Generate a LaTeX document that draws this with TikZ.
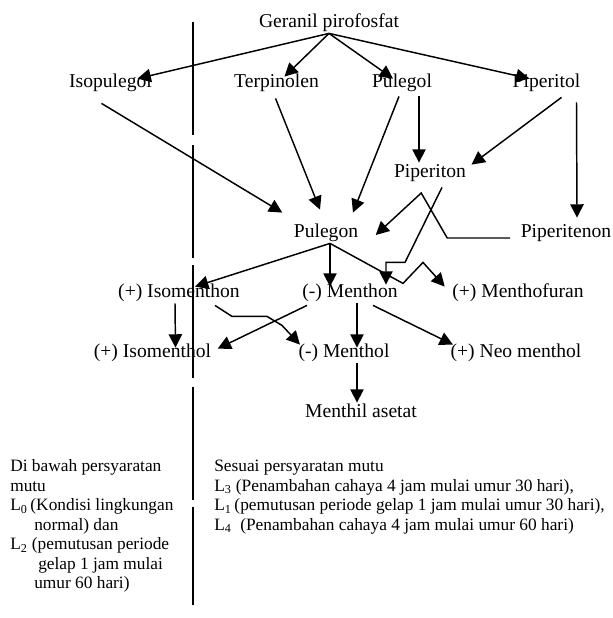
\documentclass[tikz,border=0pt]{standalone}
\usepackage{fontspec}
\setmainfont{Liberation Serif}
\usetikzlibrary{arrows.meta,calc}

\begin{document}
\begin{tikzpicture}[x=0.75pt,y=-0.75pt]

\tikzstyle{chem} = [inner sep=1pt, text height=10pt, text depth=3.2pt, font=\fontsize{14.7}{17}\selectfont]
\tikzstyle{arr} = [line width=1.1pt, -{Triangle[length=10pt,width=10pt]}]
\tikzstyle{note} = [anchor=base west, inner sep=0pt, font=\fontsize{13}{16}\selectfont]

\useasboundingbox (0,0) rectangle (613,618);

\node[chem] (ger) at (329,23) {Geranil pirofosfat};
\node[chem] (isopul) at (110.5,83) {Isopulegol};
\node[chem] (terp) at (276.5,83) {Terpinolen};
\node[chem] (pulegol) at (402,83) {Pulegol};
\node[chem] (piperitol) at (546.5,83) {Piperitol};
\node[chem] (piperiton) at (430,173) {Piperiton};
\node[chem] (pulegon) at (326,233) {Pulegon};
\node[chem] (piperitenon) at (566,233) {Piperitenon};
\node[chem] (isomenthon) at (179,293) {(+) Isomenthon};
\node[chem] (menthon) at (350,293) {(-) Menthon};
\node[chem] (menthofuran) at (518,293) {(+) Menthofuran};
\node[chem] (isomenthol) at (152.5,353) {(+) Isomenthol};
\node[chem] (menthol) at (344,353) {(-) Menthol};
\node[chem] (neomenthol) at (516,353) {(+) Neo menthol};
\node[chem] (asetat) at (361,413) {Menthil asetat};

\draw[arr] (ger.south) -- ($(isopul.north)+(27,6)$);
\draw[arr] (ger.south) -- ($(terp.north)+(8,4)$);
\draw[arr] (ger.south) -- ($(pulegol.north)+(-9,6)$);
\draw[arr] (ger.south) -- ($(piperitol.north)+(-17,6)$);

\draw[arr] ($(isopul.south)+(-9,10)$) -- ($(pulegon.north west)+(-10,-10)$);
\draw[arr] ($(terp.south)+(-1,5)$) -- ($(pulegon.north)+(-6,-13)$);
\draw[arr] ($(pulegol.south)+(-3,3)$) -- ($(pulegon.north)+(27,-10)$);
\draw[arr] ($(pulegol.south)+(17,3)$) -- ($(piperiton.north)+(-11,0)$);
\draw[arr] ($(piperitol.south)+(15,4)$) -- ($(piperiton.north east)+(4,2)$);
\draw[arr] ($(piperitol.south)+(30,9)$) -- ($(piperitenon.north)+(11,-5)$);

\draw[arr] ($(piperitenon.west)+(-9,5)$) -- ++(-63,0) -- ++(-26,-45) -- ($(pulegon.east)+(16,2)$);
\draw[arr] ($(piperiton.south)+(12,4)$) -- ++(-37,75) -- ++(-19,0) -- ($(menthon.north)+(36,2)$);

\draw[arr] ($(pulegon.south)+(4,0)$) -- ($(isomenthon.north)+(16,4)$);
\draw[arr] ($(pulegon.south)+(4,0)$) -- ($(menthon.north)+(-20,4)$);
\draw[arr] ($(pulegon.south)+(4,0)$) -- ++(73,40) -- ++(20,-21) -- ($(menthofuran.north west)+(-6,4)$);

\draw[arr] ($(isomenthon.south)+(-4,0)$) -- ($(isomenthol.north)+(23,5)$);
\draw[arr] ($(isomenthon.south)+(36,2)$) -- ++(17,11) -- ++(35,0) -- ++(15,9) -- ($(menthol.north west)+(3,2)$);
\draw[arr] ($(menthon.south)+(-43,2)$) -- ($(isomenthol.north east)+(5,6)$);
\draw[arr] ($(menthon.south)+(7,0)$) -- ($(menthol.north)+(13,5)$);
\draw[arr] ($(menthon.south)+(23,2)$) -- ($(neomenthol.north west)+(4,2)$);
\draw[arr] ($(menthol.south)+(13,0)$) -- ($(asetat.north)+(-4,0)$);

\foreach \txt [count=\i] in {Di bawah persyaratan, mutu, L\textsubscript{0}\,(Kondisi lingkungan,
  \hspace{18pt}normal) dan, L\textsubscript{2} (pemutusan periode, \hspace{21pt}gelap 1 jam mulai,
  \hspace{18pt}umur 60 hari)}
  \node[note] (left\i) at (10,452+19.5*\i) {\txt};

\foreach \txt [count=\i] in {Sesuai persyaratan mutu, {L\textsubscript{3} (Penambahan cahaya 4 jam mulai umur 30 hari),},
  {L\textsubscript{1}\,(pemutusan periode gelap 1 jam mulai umur 30 hari),},
  L\textsubscript{4}\ \ (Penambahan cahaya 4 jam mulai umur 60 hari)}
  \node[note] (right\i) at (214,452+19.5*\i) {\txt};

% garis pemisah
\foreach \a/\b in {22/135,145/258,265/378,387/500,507/605}
  \draw[line width=1.3pt] (193,\a) -- (193,\b);

\end{tikzpicture}
\end{document}
